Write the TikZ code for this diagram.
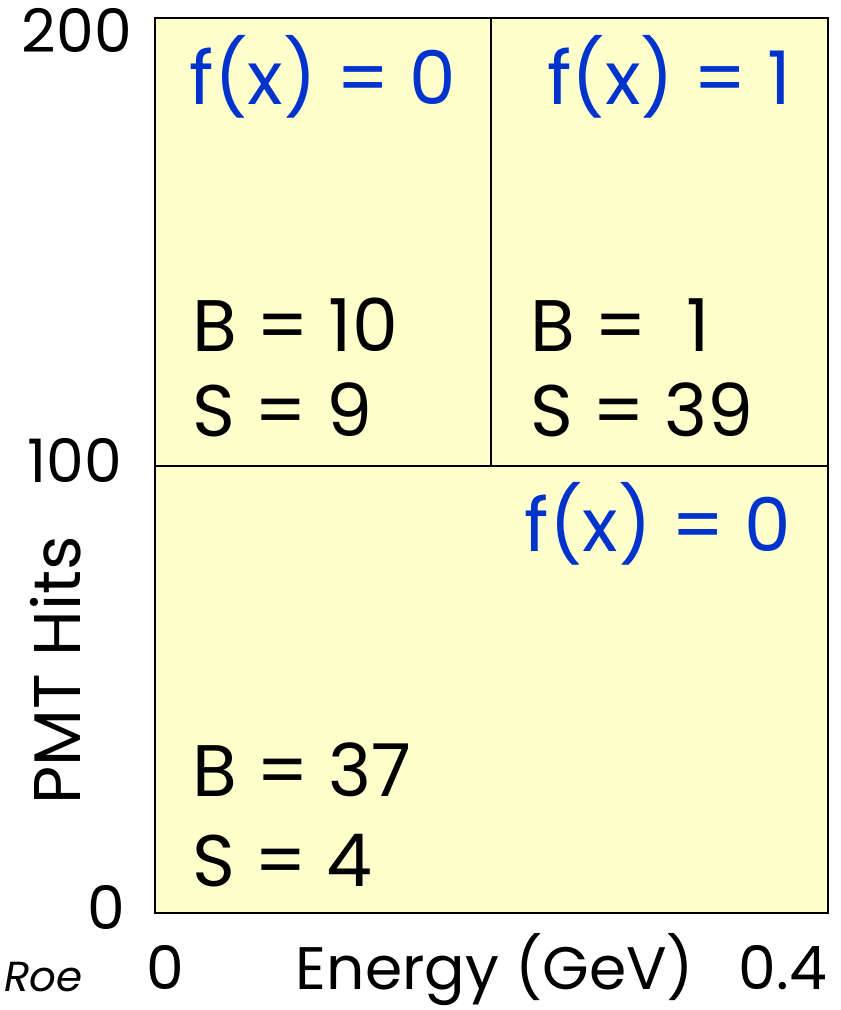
\documentclass[tikz,border=0pt]{standalone}
\usepackage{fontspec}
\setmainfont{Poppins}
\definecolor{boxfill}{HTML}{FFFFCC}
\definecolor{fblue}{HTML}{0033CC}
\tikzset{
  lbl/.style={inner sep=0pt, font=\fontsize{60}{60}\selectfont},
  cell/.style={inner sep=0pt, anchor=base west, font=\fontsize{73}{73}\selectfont},
  fx/.style={inner sep=0pt, anchor=base, text=fblue, font=\fontsize{74}{74}\selectfont},
}
\begin{document}
\begin{tikzpicture}[x=1pt,y=1pt]
\useasboundingbox (0,0) rectangle (841,1010);
\path[fill=boxfill] (155,97) rectangle (828,992);
\draw[line width=2.5pt] (155,97) rectangle (828,992);
\coordinate (hl) at (155,544);
\coordinate (hr) at (828,544);
\coordinate (vt) at (491,992);
\coordinate (vb) at (491,544);
\draw[line width=2pt] (hl) -- (hr);
\draw[line width=2pt] (vt) -- (vb);
% axis labels
\node[lbl, anchor=base east] (y200) at (132,957) {200};
\node[lbl, anchor=base east] (y100) at (122,527) {100};
\node[lbl, anchor=base east] (y0) at (125,80) {0};
\node[lbl, rotate=90, font=\fontsize{66}{66}\selectfont] (ylab) at (56,340) {PMT Hits};
\node[lbl, anchor=base] (x0) at (165,20) {0};
\node[lbl, anchor=base] (xlab) at (495,20) {Energy (GeV)};
\node[lbl, anchor=base] (x04) at (783,20) {0.4};
\node[lbl, anchor=base west, font=\fontsize{42}{42}\selectfont\itshape] (roe) at (4,18) {Roe};
% cells
\node[fx] (f1) at (323,905) {f(x) = 0};
\node[fx] (f2) at (669,905) {f(x) = 1};
\node[fx] (f3) at (658,458) {f(x) = 0};
\node[cell] (b1) at (192,658) {B = 10};
\node[cell] (s1) at (192,573) {S = 9};
\node[cell] (b2) at (530,658) {B =\ \ 1};
\node[cell] (s2) at (530,573) {S = 39};
\node[cell] (b3) at (192,213) {B = 37};
\node[cell] (s3) at (192,123) {S = 4};
\end{tikzpicture}
\end{document}
